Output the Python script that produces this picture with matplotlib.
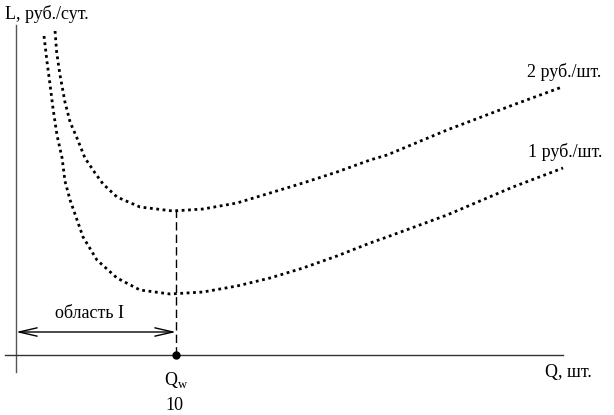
## Cost curves L(Q) for two unit prices, with optimum point Qw
import numpy as np
import matplotlib
matplotlib.use('Agg')
import matplotlib.pyplot as plt

plt.rcParams['font.family'] = ['Liberation Serif', 'DejaVu Serif']
plt.rcParams['mathtext.fontset'] = 'custom'
plt.rcParams['mathtext.rm'] = 'Liberation Serif'

## Data (Q in pieces, L in arbitrary units)
q_upper = [2.44, 2.54, 2.75, 3.06, 3.38, 3.81, 4.31, 4.94, 5.44, 6.31, 7.75, 9.81,
           11.69, 13.81, 15.88, 17.94, 20.06, 22.13, 23.19, 26.94, 31.06, 34.13]
l_upper = [32.4, 30.3, 28.0, 25.3, 23.3, 21.7, 19.7, 18.2, 17.1, 15.8, 14.8, 14.4,
           14.6, 15.2, 16.2, 17.2, 18.3, 19.5, 20.0, 22.5, 25.0, 26.8]

q_lower = [1.75, 1.94, 2.13, 2.31, 2.56, 2.88, 3.06, 3.38, 4.19, 5.06, 6.31, 7.75, 9.63,
           11.69, 13.81, 15.88, 17.94, 20.06, 22.13, 23.19, 26.94, 31.06, 34.19]
l_lower = [31.9, 29.3, 27.0, 24.7, 22.0, 19.7, 17.4, 15.5, 11.8, 9.5, 7.7, 6.5, 6.1,
           6.3, 6.9, 7.7, 8.7, 9.9, 11.2, 11.8, 14.0, 16.8, 18.7]

curve_labels = ['2 руб./шт.', '1 руб./шт.']
q_w = 10
q_w_label = 'Q$_\\mathregular{w}$'
q_w_value = '10'
region_label = 'область I'

fig = plt.figure(figsize=(6.14, 4.15), dpi=100)
ax = fig.add_axes([0, 0, 1, 1])
ax.set_xlim(-1, 37.375)
ax.set_ylim(-6, 35.5)
ax.axis('off')

## axes drawn by hand
ax.plot([0, 0], [-1.7, 33], color='#555555', lw=1)
ax.plot([-0.69, 34.2], [0, 0], color='#333333', lw=1)

## curves
dots = (0, (1, 1.3))
ax.plot(q_upper, l_upper, color='black', lw=2.0, linestyle=dots)
ax.plot(q_lower, l_lower, color='black', lw=2.0, linestyle=dots)

## optimum line and point
ax.plot([q_w, q_w], [0, 14.7], color='black', lw=1, linestyle=(0, (6, 3)))
ax.plot([q_w], [0], 'o', color='black', ms=5)

## region arrow
ax.annotate('', xy=(0, 2.3), xytext=(q_w, 2.3),
            arrowprops=dict(arrowstyle='<->,head_length=1.3,head_width=0.3',
                            color='black', lw=1, shrinkA=0, shrinkB=0))
ax.text(4.6, 4.2, region_label, fontsize=13, ha='center', va='center')

## texts
fs = 13
ax.text(-0.69, 34.1, 'L, руб./сут.', fontsize=fs, ha='left', va='center')
ax.text(33.06, -1.7, 'Q, шт.', fontsize=fs, ha='left', va='center')
ax.text(q_w, -2.5, q_w_label, fontsize=fs, ha='center', va='center')
ax.text(q_w - 0.1, -5.0, q_w_value, fontsize=fs, ha='center', va='center')
ax.text(31.94, 28.3, curve_labels[0], fontsize=fs, ha='left', va='center')
ax.text(32.0, 20.3, curve_labels[1], fontsize=fs, ha='left', va='center')

fig.savefig('out.png', dpi=100)
